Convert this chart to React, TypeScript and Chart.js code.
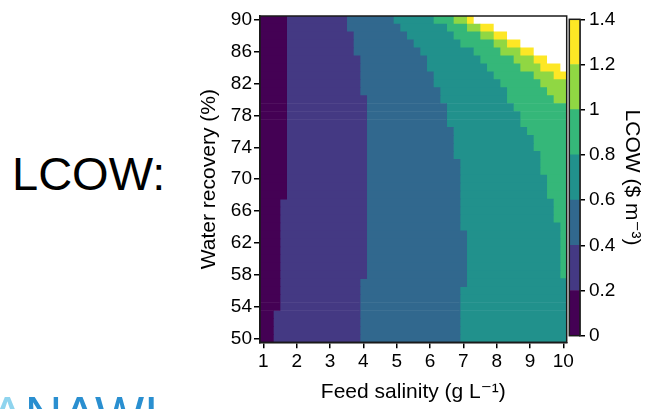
import React, { useEffect, useRef } from 'react';
import { Chart, registerables } from 'chart.js';

Chart.register(...registerables);

// ---------------- data ----------------
// Water recovery rows (%), top to bottom
const recovery = [90, 89, 88, 87, 86, 85, 84, 83, 82, 81, 80, 79, 78, 77, 76, 75, 74, 73, 72, 71, 70,
  69, 68, 67, 66, 65, 64, 63, 62, 61, 60, 59, 58, 57, 56, 55, 54, 53, 52, 51, 50];

// Feed salinity (g/L) at which LCOW crosses each level, per recovery row (null = not reached by 10 g/L)
const cross02 = [1.7, 1.7, 1.7, 1.7, 1.7, 1.7, 1.7, 1.7, 1.7, 1.7, 1.7, 1.7, 1.7, 1.7, 1.7, 1.7, 1.7, 1.7, 1.7, 1.7, 1.7,
  1.7, 1.7, 1.5, 1.5, 1.5, 1.5, 1.5, 1.5, 1.5, 1.5, 1.5, 1.5, 1.5, 1.5, 1.5, 1.5, 1.3, 1.3, 1.3, 1.3];
const cross04 = [3.5, 3.5, 3.7, 3.7, 3.7, 3.9, 3.9, 3.9, 3.9, 3.9, 4.1, 4.1, 4.1, 4.1, 4.1, 4.1, 4.1, 4.1, 4.1, 4.1, 4.1,
  4.1, 4.1, 4.1, 4.1, 4.1, 4.1, 4.1, 4.1, 4.1, 4.1, 4.1, 4.1, 3.9, 3.9, 3.9, 3.9, 3.9, 3.9, 3.9, 3.9];
const cross06 = [4.9, 5.1, 5.3, 5.5, 5.7, 5.9, 5.9, 6.1, 6.1, 6.3, 6.3, 6.5, 6.5, 6.5, 6.7, 6.7, 6.7, 6.7, 6.9, 6.9, 6.9,
  6.9, 6.9, 6.9, 6.9, 6.9, 6.9, 7.1, 7.1, 7.1, 7.1, 7.1, 7.1, 7.1, 6.9, 6.9, 6.9, 6.9, 6.9, 6.9, 6.9];
const cross08 = [6.1, 6.5, 6.7, 6.9, 7.3, 7.5, 7.7, 7.9, 8.1, 8.3, 8.3, 8.5, 8.7, 8.7, 8.9, 9.1, 9.1, 9.3, 9.3, 9.3, 9.5,
  9.5, 9.5, 9.7, 9.7, 9.7, 9.9, 9.9, 9.9, 9.9, 9.9, 9.9, 9.9, null, null, null, null, null, null, null, null];
const cross10 = [6.7, 7.1, 7.5, 7.9, 8.1, 8.5, 8.7, 9.1, 9.3, 9.5, 9.7, null, null, null, null, null, null, null, null, null, null,
  null, null, null, null, null, null, null, null, null, null, null, null, null, null, null, null, null, null, null, null];
const cross12 = [7.1, 7.5, 7.9, 8.3, 8.7, 9.1, 9.3, 9.7, null, null, null, null, null, null, null, null, null, null, null, null, null,
  null, null, null, null, null, null, null, null, null, null, null, null, null, null, null, null, null, null, null, null];
const cross14 = [7.3, 7.9, 8.3, 8.7, 9.1, 9.5, 9.9, null, null, null, null, null, null, null, null, null, null, null, null, null, null,
  null, null, null, null, null, null, null, null, null, null, null, null, null, null, null, null, null, null, null, null];

const lcowLevels = [0, 0.2, 0.4, 0.6, 0.8, 1, 1.2, 1.4];
const xTicks = [1, 2, 3, 4, 5, 6, 7, 8, 9, 10];
const yTicks = [50, 54, 58, 62, 66, 70, 74, 78, 82, 86, 90];

// ---------------- style ----------------
const FONT = "'Liberation Sans', Arial, 'DejaVu Sans', sans-serif";
const viridis7 = ['#440154', '#443983', '#31688e', '#21918c', '#35b779', '#90d743', '#fde725'];
const X_MIN = 0.9;
const X_MAX = 10.1;
const Y_MIN = 49.5;
const Y_MAX = 90.5;

const framePlugin = {
  id: 'frame',
  afterDraw(chart: any) {
    const { ctx, chartArea } = chart;
    ctx.save();
    ctx.strokeStyle = '#1a1a1a';
    ctx.lineWidth = 1.5;
    ctx.strokeRect(chartArea.left, chartArea.top, chartArea.right - chartArea.left, chartArea.bottom - chartArea.top);
    ctx.restore();
  },
};

export default function App() {
  const mainRef = useRef<HTMLCanvasElement>(null);
  const cbRef = useRef<HTMLCanvasElement>(null);

  useEffect(() => {
    Chart.defaults.font.family = FONT;
    const crossings = [cross02, cross04, cross06, cross08, cross10, cross12, cross14];

    const datasets = viridis7.map((color, i) => {
      const data: any[] = [];
      recovery.forEach((r, j) => {
        const start = i === 0 ? X_MIN : (crossings[i - 1][j] ?? X_MAX);
        const end = crossings[i][j] ?? X_MAX;
        if (end > start) data.push({ y: r, x: [start, end] });
      });
      return {
        label: `${lcowLevels[i]}-${lcowLevels[i + 1]}`,
        data,
        backgroundColor: color,
        borderWidth: 0,
        grouped: false,
        barPercentage: 1,
        categoryPercentage: 1,
      };
    });

    const tickFont = { family: FONT, size: 19 };
    const titleFont = { family: FONT, size: 21 };

    const main = new Chart(mainRef.current!, {
      type: 'bar',
      data: { datasets } as any,
      options: {
        animation: false,
        responsive: false,
        indexAxis: 'y',
        layout: { padding: { left: 190, top: 16, right: 87.3, bottom: 0 } },
        plugins: { legend: { display: false }, tooltip: { enabled: false } },
        scales: {
          x: {
            type: 'linear',
            position: 'bottom',
            min: X_MIN,
            max: X_MAX,
            afterBuildTicks: (s: any) => { s.ticks = xTicks.map((v) => ({ value: v })); },
            afterFit: (s: any) => { s.height = 66.7; },
            ticks: { font: tickFont, color: '#000', padding: 2, maxRotation: 0, autoSkip: false },
            grid: { drawOnChartArea: false, drawTicks: true, tickLength: 6, color: '#000', lineWidth: 1.5, offset: false },
            border: { display: true, color: '#1a1a1a', width: 1.5 },
            title: { display: true, text: 'Feed salinity (g L⁻¹)', font: titleFont, color: '#000', padding: { top: 0, bottom: 4 } },
          },
          y: {
            type: 'linear',
            position: 'left',
            offset: false,
            min: Y_MIN,
            max: Y_MAX,
            afterBuildTicks: (s: any) => { s.ticks = yTicks.map((v) => ({ value: v })); },
            afterFit: (s: any) => { s.width = 70; },
            ticks: { font: tickFont, color: '#000', padding: 2, autoSkip: false },
            grid: { drawOnChartArea: false, drawTicks: true, tickLength: 6, color: '#000', lineWidth: 1.5, offset: false },
            border: { display: true, color: '#1a1a1a', width: 1.5 },
            title: { display: true, text: 'Water recovery (%)', font: titleFont, color: '#000', padding: { top: 7, bottom: 0 } },
          },
        },
      } as any,
      plugins: [framePlugin],
    });

    const cb = new Chart(cbRef.current!, {
      type: 'bar',
      data: {
        labels: [''],
        datasets: viridis7.map((color, i) => ({
          data: [[lcowLevels[i], lcowLevels[i + 1]]],
          backgroundColor: color,
          borderWidth: 0,
          grouped: false,
          barPercentage: 1,
          categoryPercentage: 1,
        })),
      } as any,
      options: {
        animation: false,
        responsive: false,
        layout: { padding: { left: 5.3, right: 0, top: 19.3, bottom: 73.3 } },
        plugins: { legend: { display: false }, tooltip: { enabled: false } },
        scales: {
          x: { display: false },
          y: {
            type: 'linear',
            position: 'right',
            min: 0,
            max: 1.4,
            afterBuildTicks: (s: any) => { s.ticks = lcowLevels.map((v) => ({ value: v })); },
            afterFit: (s: any) => { s.width = 74; },
            ticks: { font: tickFont, color: '#000', padding: 4, callback: (v: any) => String(v) },
            grid: { drawOnChartArea: false, drawTicks: true, tickLength: 5, color: '#000', lineWidth: 1.5 },
            border: { display: true, color: '#1a1a1a', width: 1.5 },
            title: { display: true, text: 'LCOW ($ m⁻³)', font: titleFont, color: '#000', padding: { top: 10, bottom: 0 } },
          },
        },
      } as any,
      plugins: [framePlugin],
    });

    return () => {
      main.destroy();
      cb.destroy();
    };
  }, []);

  return (
    <div style={{ position: 'fixed', left: 0, top: 0, width: 654, height: 409, overflow: 'hidden', background: '#fff' }}>
      <div style={{ position: 'absolute', left: 12, top: 149.5, fontFamily: FONT, fontSize: 47, lineHeight: '47px', color: '#000', whiteSpace: 'nowrap' }}>
        LCOW:
      </div>
      <div style={{ position: 'absolute', left: -10, top: 389, fontFamily: FONT, fontSize: 52, lineHeight: '52px', whiteSpace: 'nowrap' }}>
        <span style={{ color: '#8fd4ee' }}>Λ</span>
        <span style={{ color: '#2a8fd0' }}>NAWI</span>
      </div>
      <canvas ref={mainRef} width={654} height={409} style={{ position: 'absolute', left: 0, top: 0, width: 654, height: 409 }} />
      <canvas ref={cbRef} width={90} height={409} style={{ position: 'absolute', left: 564, top: 0, width: 90, height: 409 }} />
    </div>
  );
}
